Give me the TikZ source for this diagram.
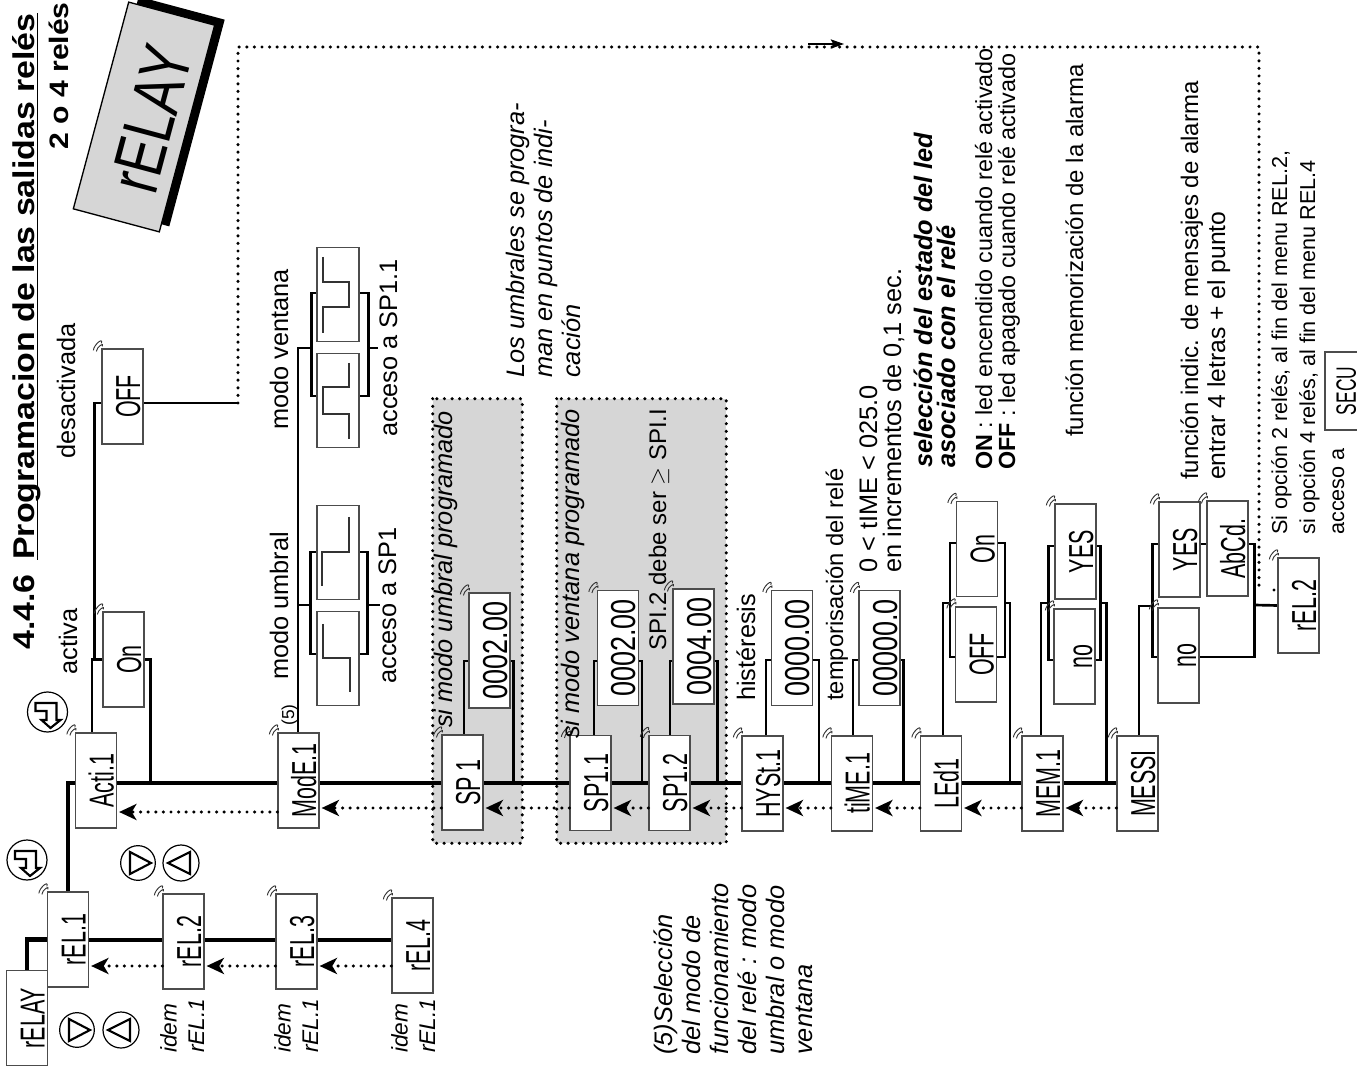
\documentclass[tikz,border=0pt]{standalone}
\usepackage{fontspec}
\setmainfont{Liberation Sans}
\newfontfamily\dispfont[FakeStretch=.62]{Liberation Sans}
\newfontfamily\numfont[FakeStretch=.78]{Liberation Sans}
\newfontfamily\bigdispfont[FakeStretch=.76]{Liberation Sans}
\newfontfamily\titlefont[FakeStretch=1.13]{Liberation Sans}
\usetikzlibrary{arrows.meta,backgrounds}
\definecolor{zonegray}{gray}{.84}
\begin{document}
\begin{tikzpicture}[x=.75pt,y=-.75pt,
boxline/.style={draw=black!70,line width=.9pt,fill=white},
disp/.style={boxline,rotate=90,inner sep=0pt,minimum width=71.25pt,minimum height=30.75pt,text height=26.5pt,text depth=0pt,font=\dispfont\fontsize{26}{26}\selectfont},
dispval/.style={disp,minimum width=86.25pt,font=\numfont\fontsize{26}{26}\selectfont},
flash/.style={append after command={\pgfextra{
\draw[flashline] ([shift={(-8,2)}]\tikzlastnode.north east) .. controls +(0,-5) and +(2,-7) .. +(8,-7);
\draw[flashline] ([shift={(-5,3)}]\tikzlastnode.north east) .. controls +(0,-4) and +(2,-5) .. +(6,-5);
}}},
flashline/.style={line width=.7pt,black!80},
graphbox/.style={boxline,rotate=90,inner sep=0pt,minimum width=70pt,minimum height=31.5pt},
sigline/.style={line width=1pt,black!80},
zonebox/.style={fill=zonegray,inner sep=0pt},
zonedots/.style={line width=2.6pt,dash pattern=on 0pt off 5.7pt,line cap=round},
busline/.style={line width=3.4pt},
stubline/.style={line width=2pt},
retdots/.style={line width=2.6pt,dash pattern=on 0pt off 5.7pt,line cap=round},
retarrow/.style={retdots,shorten >=1.5pt,-{Stealth[length=13pt,width=12pt,inset=3.5pt]}},
txt/.style={rotate=90,anchor=base west,inner sep=0pt,font=\fontsize{19}{21}\selectfont},
txtb/.style={txt,font=\fontsize{17.5}{17.5}\selectfont},
txtc/.style={txt,font=\fontsize{16.2}{21}\selectfont},
txtlines/.style={rotate=90,anchor=north west,inner sep=0pt,align=left,font=\fontsize{19}{21}\selectfont\itshape},
idem/.style={txtlines,font=\fontsize{17}{20.5}\selectfont\itshape},
titletxt/.style={txt,font=\titlefont\bfseries\fontsize{22.5}{24}\selectfont},
keyline/.style={line width=.9pt},
keyarrow/.style={line width=1.6pt,fill=white},
enterkey/.pic={\draw[keyline] (0,0) circle (15pt);
\draw[keyarrow] (-12,-9) -- (9,-9) -- (9,8) -- (13,8) -- (3,16) -- (-6,8) -- (-1,8) -- (-1,-1) -- (-12,-1) -- cycle;},
rightkey/.pic={\draw[keyline] (0,0) circle (13pt);
\draw[keyarrow] (-8,-11) -- (-8,11) -- (13,0) -- cycle;},
leftkey/.pic={\draw[keyline] (0,0) circle (13.5pt);
\draw[keyarrow] (9,-11) -- (9,11) -- (-13,0) -- cycle;}]
\useasboundingbox (0,0) rectangle (1357,1069);
\coordinate (bus) at (0,783);
\coordinate (relbus) at (0,940);
\coordinate (ret) at (0,808);
\coordinate (retb) at (0,812);
\coordinate (relret) at (0,966);
\node[titletxt] (titlenum) at (34,650) {4.4.6};
\node[titletxt] (title) at (34,560) {Programacion de las salidas relés};
\node[titletxt,font=\titlefont\bfseries\fontsize{20}{24}\selectfont] (subtitle) at (68,150) {2 o 4 relés};
\draw[line width=.8pt] ([shift={(3.5,0)}]title.base west) -- ([shift={(3.5,0)}]title.base east);
\node[rotate=75,fill=black,minimum width=160.5pt,minimum height=66.75pt] (relayshadow) at (154,111.5) {};
\node[rotate=75,draw=black,line width=1pt,fill=zonegray,inner sep=0pt,minimum width=160.5pt,minimum height=66.75pt,text height=47pt,text depth=0pt,font=\bigdispfont\fontsize{52}{52}\selectfont] (relaytag) at (144,117) {rELAY};
\node[disp] (relay) at (27,1018) {rELAY};
\node[disp,flash] (rEL1) at (68,939.5) {rEL.1};
\node[disp,flash] (rEL2) at (183.5,941.5) {rEL.2};
\node[disp,flash] (rEL3) at (296.5,941.5) {rEL.3};
\node[disp,flash] (rEL4) at (412.5,945.5) {rEL.4};
\node[disp,flash] (Acti1) at (96,780.5) {Acti.1};
\node[disp,flash] (On1) at (123.5,659.5) {On};
\node[disp,flash] (OFF1) at (122.5,396.5) {OFF};
\node[disp,flash] (ModE1) at (298.5,780.5) {ModE.1};
\node[graphbox] (GrA) at (338,294.5) {};
\node[graphbox] (GrB) at (338,400.5) {};
\node[graphbox] (GrC) at (338,552.5) {};
\node[graphbox] (GrD) at (338,658.5) {};
\node[disp,flash] (SP1) at (462.5,782.5) {SP 1};
\node[dispval,flash] (SPval) at (489.5,650.5) {0002.00};
\node[disp,flash] (SP11) at (590.5,783) {SP1.1};
\node[dispval,flash] (SP11val) at (618,648) {0002.00};
\node[disp,flash] (SP12) at (669.5,783) {SP1.2};
\node[dispval,flash] (SP12val) at (693.5,646.5) {0004.00};
\node[disp,flash] (HYSt1) at (762.5,783.5) {HYSt.1};
\node[dispval,flash] (HYStval) at (792,648) {0000.00};
\node[disp,flash] (tiME1) at (852,783.5) {tiME.1};
\node[dispval,flash] (tiMEval) at (879.5,648) {00000.0};
\node[disp,flash] (LEd1) at (941,783.5) {LEd1};
\node[disp,flash] (LEdOn) at (977,549) {On};
\node[disp,flash] (LEdOFF) at (976,654.5) {OFF};
\node[disp,flash] (MEM1) at (1042.5,783.5) {MEM.1};
\node[disp,flash] (MEMYES) at (1075.5,551.5) {YES};
\node[disp,flash] (MEMno) at (1074.5,656.5) {no};
\node[disp,flash] (MESSI) at (1137.5,783.5) {MESSI};
\node[disp,flash] (MESSYES) at (1179.5,549.5) {YES};
\node[disp,flash] (MESSno) at (1178.5,655.5) {no};
\node[disp,flash] (AbCd) at (1227.5,548.5) {AbCd.};
\node[disp,flash] (rEL2b) at (1298.5,605.5) {rEL.2};
\node[disp,minimum width=58.5pt,text height=15.5pt,font=\dispfont\fontsize{21}{21}\selectfont] (SECU) at (1345.5,391) {SECU};
\pic at (27,860) {enterkey};
\pic at (47.5,712) {enterkey};
\pic at (138,863) {rightkey};
\pic at (181,863) {leftkey};
\pic at (77,1030) {rightkey};
\pic at (121,1030) {leftkey};
\draw[sigline] (349,517) -- (349,552) -- (322,552) -- (322,586);
\draw[sigline] (323,624) -- (323,658) -- (350,658) -- (350,692);
\draw[sigline] (323,257) -- (323,282) -- (349,282) -- (349,307) -- (323,307) -- (323,333);
\draw[sigline] (349,363) -- (349,387) -- (323,387) -- (323,414) -- (349,414) -- (349,439);
\node[txt] (lblactiva) at (77,675) {activa};
\node[txt] (lbldesact) at (75,459) {desactivada};
\node[txt] (lblumbral) at (288,680) {modo umbral};
\node[txt] (lblventana) at (288,430) {modo ventana};
\node[txt] (lblSPa) at (396,684) {acceso a SP1};
\node[txt] (lblSPb) at (397,437) {acceso a SP1.1};
\node[txt,font=\fontsize{13}{13}\selectfont] (lblfive) at (294,726) {(5)};
\node[txt,font=\fontsize{19}{21}\selectfont\itshape] (lblsiumbral) at (452,728) {si modo umbral programado};
\node[txt,font=\fontsize{19}{21}\selectfont\itshape] (lblsiventana) at (579,739) {si modo ventana programado};
\node[txt,font=\fontsize{18}{21}\selectfont] (lbldebe) at (666,651) {SPI.2 debe ser $\geq$ SPI.I};
\node[txtlines] (lblumbrales) at (506,378) {Los umbrales se progra-\\man en puntos de indi-\\cación};
\node[txt] (lblhyst) at (755,701) {histéresis};
\node[txt,font=\fontsize{17.8}{21}\selectfont] (lbltempo) at (843,701) {temporisación del relé};
\node[txt] (lbltime) at (877,573) {0 < tIME < 025.0};
\node[txt] (lblincr) at (901,573) {en incrementos de 0,1 sec.};
\node[txt,font=\fontsize{19}{21}\selectfont\bfseries\itshape] (lblsel) at (932,468) {selección del estado del led};
\node[txt,font=\fontsize{19}{21}\selectfont\bfseries\itshape] (lblasoc) at (955,468) {asociado con el relé};
\node[txtb] (lblON) at (992,470) {\textbf{ON} : led encendido cuando relé activado};
\node[txtb] (lblOFF) at (1015,470) {\textbf{OFF} : led apagado cuando relé activado};
\node[txtb,font=\fontsize{18}{18}\selectfont] (lblmem) at (1083,437) {función memorización de la alarma};
\node[txtb,font=\fontsize{18}{18}\selectfont] (lblindic) at (1198,480) {función indic. de mensajes de alarma};
\node[txtb,font=\fontsize{18.5}{18}\selectfont] (lblentrar) at (1225,480) {entrar 4 letras + el punto};
\node[txtc] (lblsi2) at (1287,535) {Si opción 2 relés, al fin del menu REL.2,};
\node[txtc] (lblsi4) at (1315,535) {si opción 4 relés, al fin del menu REL.4};
\node[txtc] (lblacceso) at (1344,535) {acceso a};
\node[idem] (idemb) at (160,1053) {idem\\rEL.1};
\node[idem] (idemc) at (274,1053) {idem\\rEL.1};
\node[idem] (idemd) at (391,1053) {idem\\rEL.1};
\node[txtlines] (lblnote) at (654,1055) {(5)Selección\\del modo de\\funcionamiento\\del relé : modo\\umbral o modo\\ventana};
\coordinate (retstart) at (238,403);
\coordinate (retcornera) at (238,47);
\coordinate (retcornerb) at (1259,47);
\coordinate (retend) at (1259,590);
\coordinate (retmarka) at (808,44);
\coordinate (retmarkb) at (844,44);
\fill (1274,590) circle (1.3pt);
\draw[retdots] (retstart) -- (retcornera) -- (retcornerb) -- (retend);
\draw[line width=.8pt,-{Stealth[length=10pt,width=7pt,inset=2pt]}] (retmarka) -- (retmarkb);
\draw[retarrow] (rEL2.north |- relret) -- (rEL1.south |- relret);
\draw[retarrow] (rEL3.north |- relret) -- (rEL2.south |- relret);
\draw[retarrow] (rEL4.north |- relret) -- (rEL3.south |- relret);
\draw[retarrow] (ModE1.north |- retb) -- (Acti1.south |- retb);
\draw[retarrow] (SP1.north |- ret) -- (ModE1.south |- ret);
\draw[retarrow] (SP11.north |- ret) -- (SP1.south |- ret);
\draw[retarrow] (SP12.north |- ret) -- (SP11.south |- ret);
\draw[retarrow] (HYSt1.north |- ret) -- (SP12.south |- ret);
\draw[retarrow] (tiME1.north |- ret) -- (HYSt1.south |- ret);
\draw[retarrow] (LEd1.north |- ret) -- (tiME1.south |- ret);
\draw[retarrow] (MEM1.north |- ret) -- (LEd1.south |- ret);
\draw[retarrow] (MESSI.north |- ret) -- (MEM1.south |- ret);
\begin{scope}[on background layer]
\node[zonebox,minimum width=66.75pt,minimum height=333pt] (zoneA) at (477.5,621) {};
\node[zonebox,minimum width=126.75pt,minimum height=333pt] (zoneB) at (641.5,621) {};
\draw[zonedots] (zoneA.north west) rectangle (zoneA.south east);
\draw[zonedots] (zoneB.north west) rectangle (zoneB.south east);
\draw[busline] (relay.east) |- (rEL1.north);
\draw[busline] (rEL1 |- relbus) -- (rEL4 |- relbus);
\draw[busline] (rEL1.east) |- (Acti1.north |- bus);
\draw[busline] (Acti1 |- bus) -- (MESSI |- bus);
\draw[stubline] ([shift={(-4,0)}]Acti1.east) |- (On1.north);
\draw[stubline] ([shift={(-8,0)}]On1.north) |- ([shift={(0,6.5)}]OFF1.north);
\draw[stubline] (On1.south) -- ++(6,0) -- ++(0,123.5);
\draw[stubline] ([shift={(0,6.5)}]OFF1.south) -- (retstart);
\draw[stubline] ([shift={(-.5,0)}]ModE1.east) |- ([shift={(-5,53.5)}]GrA.north);
\draw[stubline] ([shift={(0,-1.5)}]GrA.north) -- ++(-5,0) -- ++(0,103) -- ++(5,0);
\draw[stubline] ([shift={(0,-1.5)}]GrA.south) -- ++(9,0) -- ++(0,103) -- ++(-9,0);
\draw[stubline] ([shift={(9,53.5)}]GrA.south) -- ++(9,0);
\draw[stubline] ([shift={(0,-.5)}]GrC.north) -- ++(-6,0) -- ++(0,102) -- ++(6,0);
\draw[stubline] ([shift={(0,-.5)}]GrC.south) -- ++(8,0) -- ++(0,102) -- ++(-8,0);
\draw[stubline] ([shift={(-6,52.5)}]GrC.north) -- ++(-13,0);
\draw[stubline] ([shift={(8,52.5)}]GrC.south) -- ++(12,0);
\draw[stubline] ([shift={(1.5,0)}]SP1.east) |- ([shift={(0,10.5)}]SPval.north);
\draw[stubline] ([shift={(0,10.5)}]SPval.south) -- ++(3,0) -- ++(0,122);
\draw[stubline] ([shift={(3.5,0)}]SP11.east) |- ([shift={(0,13)}]SP11val.north);
\draw[stubline] ([shift={(0,13)}]SP11val.south) -- ++(3,0) -- ++(0,122);
\draw[stubline] ([shift={(.5,0)}]SP12.east) |- ([shift={(0,14.5)}]SP12val.north);
\draw[stubline] ([shift={(0,14.5)}]SP12val.south) -- ++(3,0) -- ++(0,122);
\draw[stubline] ([shift={(3.5,0)}]HYSt1.east) |- ([shift={(0,12)}]HYStval.north);
\draw[stubline] ([shift={(0,12)}]HYStval.south) -- ++(6,0) -- ++(0,123);
\draw[stubline] ([shift={(1,0)}]tiME1.east) |- ([shift={(0,12)}]tiMEval.north);
\draw[stubline] ([shift={(0,12)}]tiMEval.south) -- ++(3,0) -- ++(0,123);
\draw[stubline] ([shift={(2,0)}]LEd1.east) |- ([shift={(-5,-51.5)}]LEdOFF.north);
\draw[stubline] ([shift={(0,-6)}]LEdOn.north) -- ++(-6,0) -- ++(0,114) -- ++(5,0);
\draw[stubline] ([shift={(0,-6)}]LEdOn.south) -- ++(7,0) -- ++(0,114) -- ++(-8,0);
\draw[stubline] ([shift={(7,54)}]LEdOn.south) -- ++(5,0) -- ++(0,180);
\draw[stubline] ([shift={(-1.5,0)}]MEM1.east) |- ([shift={(-5,-53.5)}]MEMno.north);
\draw[stubline] ([shift={(0,-5.5)}]MEMYES.north) -- ++(-6,0) -- ++(0,114) -- ++(5,0);
\draw[stubline] ([shift={(0,-5.5)}]MEMYES.south) -- ++(4,0) -- ++(0,114) -- ++(-5,0);
\draw[stubline] ([shift={(4,51.5)}]MEMYES.south) -- ++(6,0) -- ++(0,180);
\draw[stubline] ([shift={(1.5,0)}]MESSI.east) |- ([shift={(-5,-49.5)}]MESSno.north);
\draw[stubline] ([shift={(0,-5.5)}]MESSYES.north) -- ++(-6,0) -- ++(0,113) -- ++(5,0);
\draw[stubline] ([shift={(0,-5.5)}]MESSYES.south) -- ([shift={(0,-4.5)}]AbCd.north);
\draw[stubline] ([shift={(0,-4.5)}]AbCd.south) -- ++(6,0) -- ++(0,113) -- (MESSno.south |- 0,657);
\draw[stubline] ([shift={(6,56.5)}]AbCd.south) -- (rEL2b.north);
\end{scope}
\end{tikzpicture}
\end{document}
